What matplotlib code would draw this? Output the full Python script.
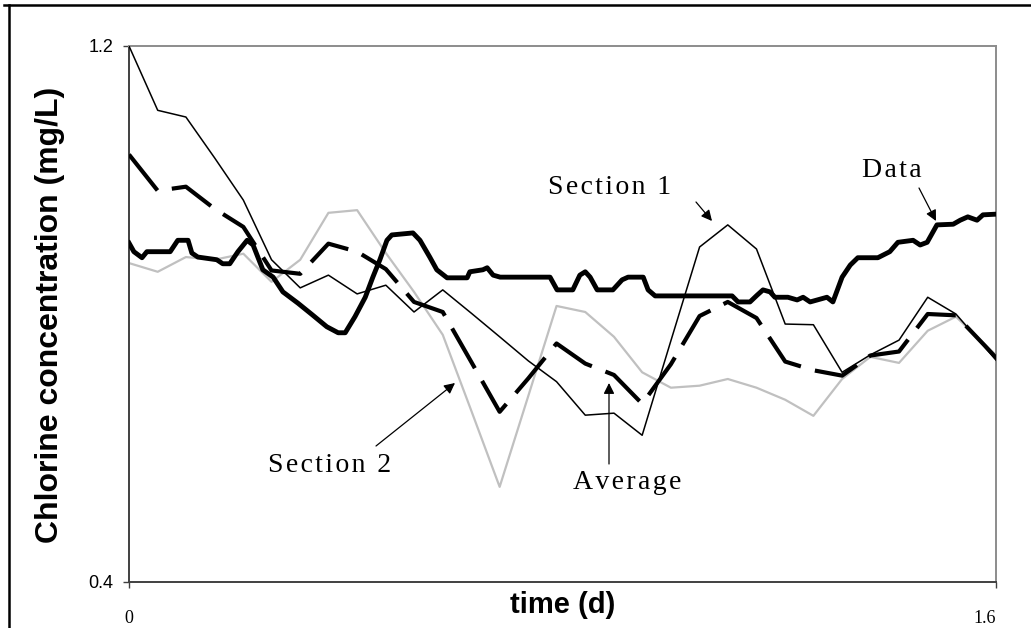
import matplotlib.pyplot as plt
from matplotlib.lines import Line2D

# sampling times of the two model sections (d)
t_sec = [0.0, 0.053, 0.105, 0.158, 0.211, 0.263, 0.316, 0.368, 0.421, 0.474,
         0.526, 0.579, 0.632, 0.684, 0.737, 0.789, 0.842, 0.895, 0.947, 1.0,
         1.053, 1.105, 1.158, 1.211, 1.263, 1.316, 1.368, 1.421, 1.474, 1.526,
         1.579, 1.632]

section1 = [1.200, 1.104, 1.094, 1.033, 0.970, 0.881, 0.839, 0.858, 0.830, 0.843,
            0.803, 0.836, 0.801, 0.766, 0.730, 0.699, 0.649, 0.652, 0.619, 0.760,
            0.900, 0.933, 0.897, 0.785, 0.784, 0.713, 0.739, 0.761, 0.825, 0.800,
            0.751, 0.701]

section2 = [0.876, 0.863, 0.885, 0.881, 0.890, 0.848, 0.881, 0.951, 0.955, 0.891,
            0.833, 0.769, 0.655, 0.542, 0.678, 0.812, 0.803, 0.766, 0.713, 0.690,
            0.693, 0.703, 0.690, 0.672, 0.648, 0.703, 0.736, 0.727, 0.775, 0.796,
            0.755, 0.713]

average = [1.038, 0.984, 0.990, 0.957, 0.930, 0.865, 0.860, 0.905, 0.893, 0.867,
           0.818, 0.803, 0.728, 0.654, 0.704, 0.756, 0.726, 0.709, 0.666, 0.725,
           0.797, 0.818, 0.794, 0.729, 0.716, 0.708, 0.738, 0.744, 0.800, 0.798,
           0.753, 0.707]

# measured chlorine
t_data = [0.000, 0.009, 0.024, 0.033, 0.076, 0.090, 0.109, 0.116, 0.127, 0.162,
          0.173, 0.186, 0.201, 0.218, 0.229, 0.247, 0.266, 0.284, 0.312, 0.338,
          0.365, 0.386, 0.399, 0.417, 0.436, 0.450, 0.463, 0.476, 0.485, 0.524,
          0.537, 0.555, 0.568, 0.587, 0.624, 0.629, 0.653, 0.661, 0.672, 0.685,
          0.777, 0.790, 0.819, 0.832, 0.842, 0.851, 0.864, 0.893, 0.910, 0.921,
          0.949, 0.958, 0.971, 1.113, 1.124, 1.146, 1.159, 1.170, 1.183, 1.192,
          1.216, 1.233, 1.244, 1.257, 1.288, 1.299, 1.316, 1.331, 1.345, 1.382,
          1.404, 1.419, 1.447, 1.460, 1.473, 1.491, 1.521, 1.534, 1.548, 1.565,
          1.576, 1.600]
data = [0.906, 0.893, 0.884, 0.893, 0.893, 0.910, 0.910, 0.891, 0.885, 0.881,
        0.875, 0.875, 0.893, 0.910, 0.903, 0.866, 0.855, 0.833, 0.816, 0.799,
        0.781, 0.772, 0.772, 0.796, 0.825, 0.855, 0.881, 0.910, 0.918, 0.921,
        0.910, 0.885, 0.866, 0.854, 0.854, 0.863, 0.866, 0.869, 0.858, 0.855,
        0.855, 0.836, 0.836, 0.858, 0.863, 0.855, 0.836, 0.836, 0.851, 0.855,
        0.855, 0.836, 0.827, 0.827, 0.818, 0.818, 0.828, 0.836, 0.833, 0.825,
        0.825, 0.821, 0.825, 0.818, 0.825, 0.818, 0.855, 0.873, 0.884, 0.884,
        0.893, 0.907, 0.910, 0.903, 0.907, 0.933, 0.934, 0.940, 0.945, 0.940,
        0.948, 0.949]

W, H = 1031, 628
X0, X1, Y0, Y1 = 129, 996, 46, 582   # plot area in pixels

fig = plt.figure(figsize=(W / 100, H / 100), dpi=100)
ax = fig.add_axes([X0 / W, 1 - Y1 / H, (X1 - X0) / W, (Y1 - Y0) / H])


def px(x, y):
    """pixel position -> data coordinates, for placing the call-out labels"""
    return (x - X0) / (X1 - X0) * 1.6, 1.2 - (y - Y0) / (Y1 - Y0) * 0.8


ax.plot(t_sec, section2, color="#c0c0c0", lw=1.6, zorder=2)
ax.plot(t_sec, section1, color="black", lw=1.1, zorder=3)
avg_line, = ax.plot(t_sec, average, color="black", lw=3.0, zorder=4,
                    solid_capstyle="butt", dash_capstyle="butt")
avg_line.set_dashes((11, 3.5))
ax.plot(t_data, data, color="black", lw=3.5, zorder=5, solid_joinstyle="round")

ax.set_xlim(0, 1.6)
ax.set_ylim(0.4, 1.2)
ax.set_xticks([0, 1.6])
ax.set_xticklabels(["0", "1.6"], family="Liberation Serif", fontsize=13)
ax.get_xticklabels()[-1].set_horizontalalignment("right")
ax.set_yticks([0.4, 1.2])
ax.set_yticklabels(["0.4", "1.2"], family="Liberation Sans", fontsize=13)
ax.tick_params(axis="y", direction="out", length=4.5, width=1, color="#404040", pad=7)
ax.tick_params(axis="x", direction="out", length=4.5, width=1, color="#404040", pad=16)

for side in ["left", "bottom"]:
    ax.spines[side].set_color("#404040")
    ax.spines[side].set_linewidth(1.4)
for side in ["top", "right"]:
    ax.spines[side].set_color("#8c8c8c")
    ax.spines[side].set_linewidth(1.4)

ax.set_xlabel("time (d)", family="Liberation Sans", fontweight="bold", fontsize=21,
              va="center")
ax.xaxis.set_label_coords(0.5, (Y1 - 605) / (Y1 - Y0))
ax.set_ylabel("Chlorine concentration (mg/L)", family="Liberation Sans",
              fontweight="bold", fontsize=23, va="center")
ax.yaxis.set_label_coords((50 - X0) / (X1 - X0), (Y1 - 315) / (Y1 - Y0))


def spaced(s):
    return "\u200a".join(s)


serif = ["Liberation Serif", "DejaVu Serif"]
arrow = dict(arrowstyle="-|>", color="black", lw=0.9, mutation_scale=16,
             shrinkA=0, shrinkB=0)

labels = [
    ("Section 1", (610, 188), (696, 202), (712, 221)),
    ("Data", (892, 170), (919, 188), (936, 221)),
    ("Section 2", (330, 465), (376, 446), (455, 383)),
    ("Average", (627, 482), (609, 464), (609, 383)),
]
for name, pos, tail, head in labels:
    ax.text(*px(*pos), spaced(name), fontsize=20, family=serif,
            ha="center", va="center")
    ax.annotate("", xy=px(*head), xytext=px(*tail), arrowprops=arrow)

# border around the chart area
fig.add_artist(Line2D([4 / W, 1], [1 - 5 / H, 1 - 5 / H], transform=fig.transFigure,
                      color="black", lw=1.8))
fig.add_artist(Line2D([9 / W, 9 / W], [0, 1 - 5 / H], transform=fig.transFigure,
                      color="black", lw=1.8))

fig.savefig("out.png", dpi=100)
